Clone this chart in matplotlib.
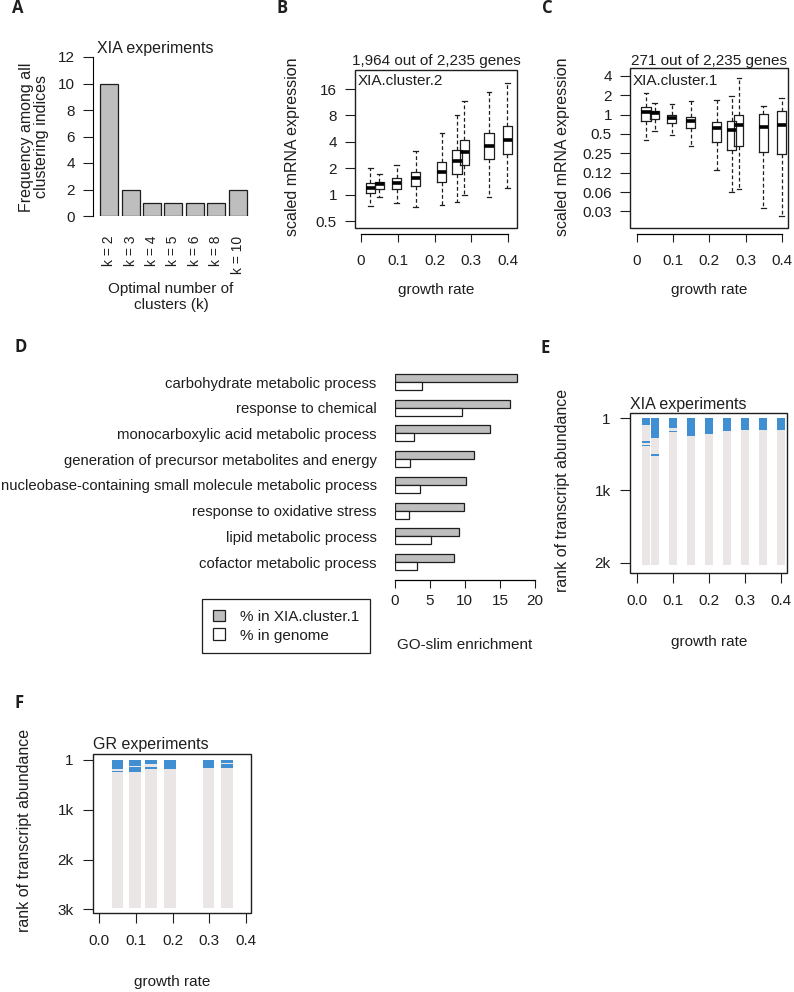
import matplotlib
matplotlib.use("Agg")
import matplotlib.pyplot as plt
from matplotlib.patches import Patch, Rectangle

plt.rcParams['font.family'] = ['Liberation Sans', 'DejaVu Sans']
plt.rcParams['font.size'] = 11
plt.rcParams['text.color'] = '#1e1e1e'
plt.rcParams['axes.labelcolor'] = '#1e1e1e'
plt.rcParams['xtick.color'] = '#1e1e1e'
plt.rcParams['ytick.color'] = '#1e1e1e'

# ---- data ----
# A: optimal number of clusters
k_labels = ['k = 2', 'k = 3', 'k = 4', 'k = 5', 'k = 6', 'k = 8', 'k = 10']
k_freq = [10, 2, 1, 1, 1, 1, 2]

# B / C: boxplots of scaled expression per growth rate
box_rates = [0.026, 0.05, 0.097, 0.149, 0.22, 0.261, 0.281, 0.348, 0.398]
c2_whislo = [0.74, 0.95, 0.80, 0.73, 0.76, 0.82, 1.0, 0.95, 1.2]
c2_q1 = [1.05, 1.16, 1.17, 1.26, 1.40, 1.74, 2.2, 2.53, 2.88]
c2_med = [1.20, 1.31, 1.35, 1.56, 1.83, 2.40, 3.05, 3.6, 4.2]
c2_q3 = [1.37, 1.40, 1.53, 1.82, 2.38, 3.19, 4.21, 5.06, 6.1]
c2_whishi = [2.0, 1.7, 2.16, 3.14, 5.06, 8.06, 11.7, 14.9, 18.5]

c1_whislo = [0.41, 0.56, 0.49, 0.33, 0.136, 0.062, 0.07, 0.035, 0.026]
c1_q1 = [0.79, 0.87, 0.74, 0.61, 0.37, 0.285, 0.33, 0.26, 0.24]
c1_med = [1.09, 1.06, 0.89, 0.81, 0.63, 0.58, 0.68, 0.65, 0.70]
c1_q3 = [1.32, 1.13, 1.0, 0.92, 0.77, 0.81, 1.0, 1.04, 1.13]
c1_whishi = [2.17, 1.52, 1.47, 1.65, 1.71, 1.98, 3.7, 1.38, 1.82]

# D: GO-slim enrichment
go_terms = ['carbohydrate metabolic process', 'response to chemical',
            'monocarboxylic acid metabolic process',
            'generation of precursor metabolites and energy',
            'nucleobase-containing small molecule metabolic process',
            'response to oxidative stress', 'lipid metabolic process',
            'cofactor metabolic process']
go_cluster = [17.5, 16.4, 13.6, 11.3, 10.2, 9.85, 9.2, 8.5]
go_genome = [3.95, 9.55, 2.75, 2.2, 3.6, 2.05, 5.25, 3.15]

# E: XIA experiments, ranks of cluster genes
xia_rates = [0.025, 0.05, 0.1, 0.15, 0.2, 0.25, 0.3, 0.35, 0.4]
xia_total = 2030
xia_blocks = [[(1, 93), (324, 347), (370, 393)],
              [(1, 230), (230, 280), (500, 523)],
              [(1, 140), (175, 195)],
              [(1, 245)], [(1, 220)], [(1, 185)], [(1, 170)], [(1, 170)], [(1, 160)]]

# F: GR experiments
gr_rates = [0.05, 0.097, 0.142, 0.193, 0.298, 0.348]
gr_total = 2980
gr_blocks = [[(1, 184), (224, 252)], [(1, 115), (150, 238)], [(1, 88), (136, 184)],
             [(1, 184)], [(1, 170)], [(1, 54), (88, 170)]]

W, H = 794, 992
fig = plt.figure(figsize=(7.94, 9.92), dpi=100)
BLUE = '#3f8fd2'
LIGHT = '#ebe6e6'
INK = '#1e1e1e'


def ax_px(l, t, r, b):
    return fig.add_axes([l / W, 1 - b / H, (r - l) / W, (b - t) / H])


def ftext(x, y, s, **kw):
    kw.setdefault('va', 'center')
    fig.text(x / W, 1 - y / H, s, **kw)


def frame(ax):
    for s in ax.spines.values():
        s.set_visible(False)
    ax.add_patch(Rectangle((0, 0), 1, 1, transform=ax.transAxes, fill=False,
                           lw=1.0, edgecolor=INK, clip_on=False, zorder=5))


# panel letters
for lab, x, y in [('A', 12, 8), ('B', 277, 8), ('C', 542, 8),
                  ('D', 14, 347), ('E', 541, 348), ('F', 14, 703)]:
    ftext(x, y, lab, fontsize=12, fontweight='bold', family='Open Sans')

# ---- A ----
ax = ax_px(93, 57, 250, 216)
ax.bar(range(len(k_freq)), k_freq, width=0.84, color='#bebebe', edgecolor=INK, lw=0.9)
ax.set_xlim(-0.75, 6.57)
ax.set_ylim(0, 12)
ax.set_yticks(range(0, 13, 2))
for s in ['top', 'right', 'bottom']:
    ax.spines[s].set_visible(False)
ax.spines['left'].set_bounds(0, 12)
ax.set_xticks(range(len(k_labels)))
ax.set_xticklabels(k_labels, rotation=90, fontsize=10)
ax.tick_params(axis='x', length=0, pad=14)
ax.tick_params(axis='y', length=7, pad=6)
ftext(97, 48, 'XIA experiments', ha='left', fontsize=11.5)
ftext(34, 137, 'Frequency among all\nclustering indices', ha='center', rotation=90,
      linespacing=1.05, fontsize=11.5)
ftext(171, 297, 'Optimal number of\nclusters (k)', ha='center', linespacing=1.15)


# ---- B and C ----
def boxpanel(l, t, r, b, lo, q1, med, q3, hi, ylim, yt, ytl, xlim, head, tag, ylab_x):
    ax = ax_px(l, t, r, b)
    stats = [dict(whislo=a, q1=c, med=m, q3=d, whishi=e, fliers=[])
             for a, c, m, d, e in zip(lo, q1, med, q3, hi)]
    ax.bxp(stats, positions=box_rates, widths=0.025, capwidths=0.0125,
           showfliers=False, manage_ticks=False,
           boxprops=dict(color=INK, lw=0.9),
           medianprops=dict(color='black', lw=2.6, solid_capstyle='butt'),
           whiskerprops=dict(color=INK, lw=0.9, linestyle=(0, (3, 2))),
           capprops=dict(color=INK, lw=0.9))
    ax.set_yscale('log', base=2)
    ax.set_ylim(*ylim)
    ax.set_yticks(yt)
    ax.set_yticklabels(ytl)
    ax.minorticks_off()
    ax.set_xlim(*xlim)
    ax.set_xticks([0, 0.1, 0.2, 0.3, 0.4])
    ax.set_xticklabels(['0', '0.1', '0.2', '0.3', '0.4'])
    frame(ax)
    ax.spines['bottom'].set_visible(True)
    ax.spines['bottom'].set_position(('outward', 4))
    ax.spines['bottom'].set_bounds(0, 0.4)
    ax.spines['bottom'].set_linewidth(0.9)
    ax.tick_params(axis='x', length=6, pad=9)
    ax.tick_params(axis='y', length=7, pad=6)
    ftext((l + r) / 2, 61, head, ha='center')
    ftext(l + 3, 81, tag, ha='left')
    ftext(ylab_x, 147, 'scaled mRNA expression', ha='center', rotation=90, fontsize=11.5)
    ftext((l + r) / 2, 290, 'growth rate', ha='center')


boxpanel(355, 70, 517, 228, c2_whislo, c2_q1, c2_med, c2_q3, c2_whishi,
         (2 ** -1.26, 2 ** 4.72), [0.5, 1, 2, 4, 8, 16], ['0.5', '1', '2', '4', '8', '16'],
         (-0.016, 0.424), '1,964 out of 2,235 genes', 'XIA.cluster.2', 293)
boxpanel(630, 68, 788, 228, c1_whislo, c1_q1, c1_med, c1_q3, c1_whishi,
         (2 ** -5.86, 2 ** 2.41), [4, 2, 1, 0.5, 0.25, 0.125, 0.0625, 0.03125],
         ['4', '2', '1', '0.5', '0.25', '0.12', '0.06', '0.03'],
         (-0.018, 0.4157), '271 out of 2,235 genes', 'XIA.cluster.1', 563)

# ---- D ----
ax = ax_px(394.6, 370, 535, 580)
rows = list(range(len(go_terms)))
hbar = 0.311
ax.barh([i - hbar / 2 for i in rows], go_cluster, height=hbar, color='#bebebe', edgecolor=INK, lw=0.9)
ax.barh([i + hbar / 2 for i in rows], go_genome, height=hbar, color='white', edgecolor=INK, lw=0.9)
ax.set_xlim(0, 20)
ax.set_ylim(7.70, -0.467)
ax.set_yticks(rows)
ax.set_yticklabels(go_terms, fontsize=10.7)
ax.set_xticks([0, 5, 10, 15, 20])
for s in ['top', 'right', 'left']:
    ax.spines[s].set_visible(False)
ax.spines['bottom'].set_linewidth(0.9)
ax.tick_params(axis='y', length=0, pad=13)
ax.tick_params(axis='x', length=6, pad=4)
ftext(465, 645, 'GO-slim enrichment', ha='center')
handles = [Patch(facecolor='#bebebe', edgecolor=INK, lw=0.9),
           Patch(facecolor='white', edgecolor=INK, lw=0.9)]
fig.legend(handles, ['% in XIA.cluster.1', '% in genome'], loc='upper left',
           bbox_to_anchor=(202 / W, 1 - 599 / H), frameon=True, fancybox=False,
           edgecolor=INK, framealpha=1, handlelength=0.8, handleheight=0.8,
           handletextpad=1.0, labelspacing=0.3, borderpad=0.7, borderaxespad=0)
fig.legends[0].get_frame().set_linewidth(0.9)


# ---- E and F ----
def rankpanel(l, t, r, b, rates, total, blocks, width, ylim, yt, ytl, xlim, title, ylab_x):
    ax = ax_px(l, t, r, b)
    ax.bar(rates, total - 1, bottom=1, width=width, color=LIGHT, lw=0)
    for x, segs in zip(rates, blocks):
        for s0, s1 in segs:
            ax.bar(x, s1 - s0, bottom=s0, width=width, color=BLUE, lw=0)
    ax.set_ylim(*ylim)
    ax.set_yticks(yt)
    ax.set_yticklabels(ytl)
    ax.set_xlim(*xlim)
    ax.set_xticks([0, 0.1, 0.2, 0.3, 0.4])
    ax.set_xticklabels(['0.0', '0.1', '0.2', '0.3', '0.4'])
    frame(ax)
    ax.tick_params(axis='x', length=7, pad=8)
    ax.tick_params(axis='y', length=7, pad=7)
    ftext(l, t - 9, title, ha='left', fontsize=11.5)
    ftext(ylab_x, (t + b) / 2 - 3, 'rank of transcript abundance', ha='center',
          rotation=90, fontsize=11.5)
    return ax


rankpanel(630, 413, 787, 573, xia_rates, xia_total, xia_blocks, 0.022,
          (2138, -68), [1, 1000, 2000], ['1', '1k', '2k'], (-0.018, 0.4157),
          'XIA experiments', 563)
ftext(709, 642, 'growth rate', ha='center')

rankpanel(93, 754, 251, 913, gr_rates, gr_total, gr_blocks, 0.032,
          (3074, -119), [1, 1000, 2000, 3000], ['1', '1k', '2k', '3k'], (-0.017, 0.4136),
          'GR experiments', 25)
ftext(172, 982, 'growth rate', ha='center')

fig.savefig('out.png', dpi=100)
